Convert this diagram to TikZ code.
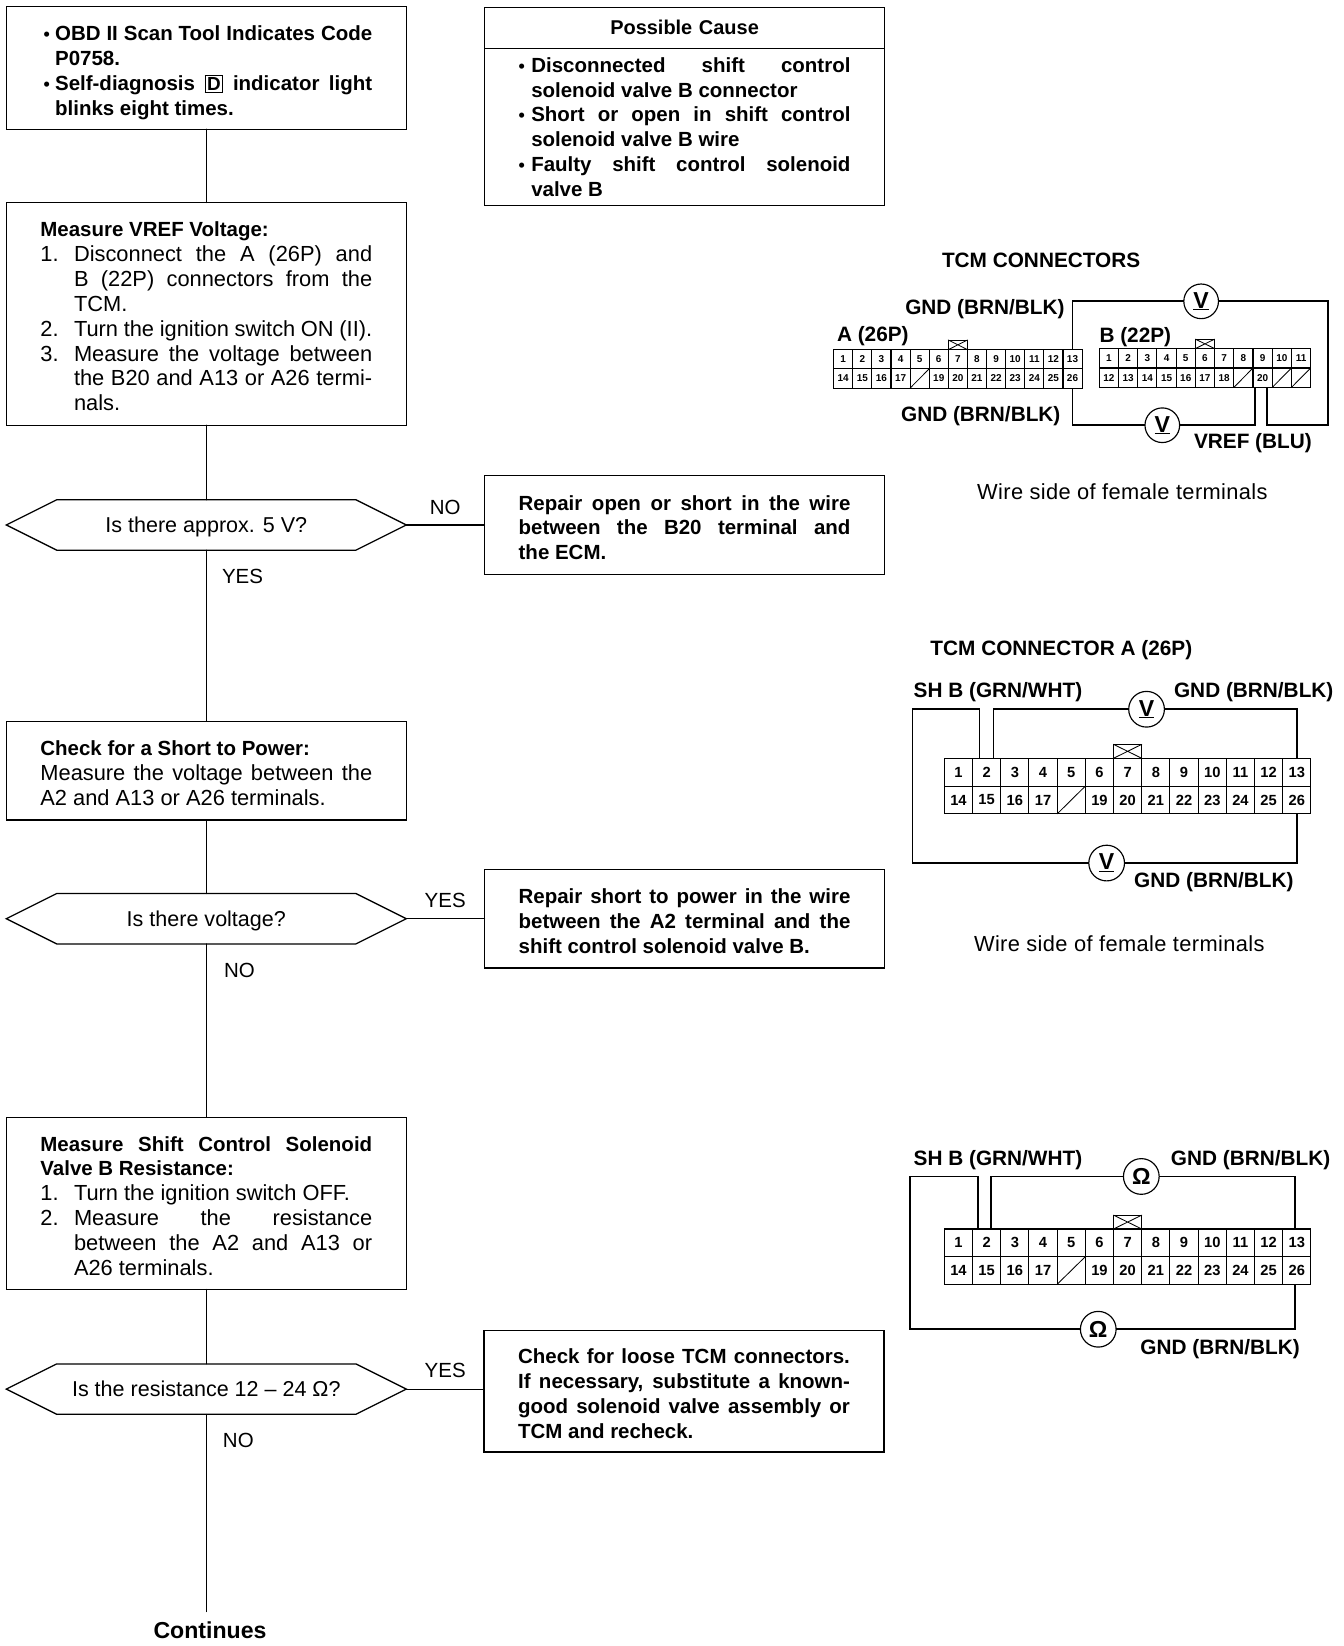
\documentclass[tikz,border=0pt]{standalone}
\usepackage{fontspec}
\setmainfont{Liberation Sans}
\usetikzlibrary{positioning, shapes.symbols}

% list items with a hanging label
\newcommand{\itmz}[3]{\hangindent=#1pt\hangafter=1\noindent\hbox to #1pt{#2\hfil}#3}
\newcommand{\itm}[3]{\par\itmz{#1}{#2}{#3}}
\newcommand{\dbox}[1]{{\fboxsep=1.5pt\fboxrule=1pt\fbox{\fontsize{18}{18}\selectfont #1}}}
\newcommand{\dotm}{{\fontsize{17}{17}\selectfont •}}
\newcommand{\hd}[1]{{\fontsize{19.5}{23.65}\selectfont\bfseries #1}}

\begin{document}
\begin{tikzpicture}[x=1pt, y=-1pt, line cap=round]

\tikzstyle{stepbox}= [draw, line width=1.2pt, minimum width=381pt, inner xsep=0pt, inner ysep=0pt, outer sep=0pt, text width=316pt, align=justify, font=\fontsize{20.8}{23.65}\selectfont]
\tikzstyle{boldbox}= [stepbox, font=\fontsize{19.5}{23.65}\selectfont\bfseries]
\tikzstyle{test}= [draw, line width=1.2pt, signal, signal to=west and east, signal pointer angle=53.1, minimum width=381pt, minimum height=48pt, inner sep=0pt, outer sep=0pt, text height=14pt, text depth=0pt, font=\fontsize{20.5}{23.65}\selectfont]
\tikzstyle{flow}= [line width=1pt]
\tikzstyle{ans}= [inner sep=0pt, font=\fontsize{19.5}{23.65}\selectfont]
\tikzstyle{lbl}= [inner sep=0pt, anchor=west, text height=14pt, text depth=0pt, font=\fontsize{19.8}{20}\selectfont\bfseries]
\tikzstyle{note}= [inner sep=0pt, font=\fontsize{20.8}{22}\selectfont\addfontfeature{LetterSpace=1.7}]
\tikzstyle{wire}= [line width=1.6pt, line cap=butt]
\tikzstyle{meter}= [circle, draw, line width=1.1pt, fill=white, minimum size=33pt, inner sep=0pt, outer sep=0pt, font=\fontsize{22}{22}\selectfont\bfseries]
\tikzstyle{down}= [execute at begin node={\rule{0pt}{19pt}}]

\useasboundingbox (0,0) rectangle (1280,1567.7);

    % left column
    \node[boldbox, minimum height=117pt] (start) at (196.5,64.5) {
        \itm{14}{\hspace{3pt}\dotm}{OBD II Scan Tool Indicates Code\linebreak P0758.}
        \itm{14}{\hspace{3pt}\dotm}{Self-diagnosis \dbox{D} indicator light\linebreak blinks eight times.}\par};
    \node[stepbox, down, minimum height=212pt] (vref) at (196.5,299) {
        \noindent\hd{Measure VREF Voltage:}
        \itm{32}{1.}{Disconnect the A (26P) and\linebreak B (22P) connectors from the\linebreak TCM.}
        \itm{32}{2.}{Turn the ignition switch ON (II).}
        \itm{32}{3.}{Measure the voltage between\linebreak the B20 and A13 or A26 termi-\linebreak nals.}\par};
    \node[test] (t1) at (196.5,500) {Is there approx. 5 V?};
    \node[stepbox, down, minimum height=94pt] (short) at (196.5,734) {
        \noindent\hd{Check for a Short to Power:}\par\noindent
        Measure the voltage between the\linebreak A2 and A13 or A26 terminals.\par};
    \node[test] (t2) at (196.5,875) {Is there voltage?};
    \node[stepbox, down, minimum height=164pt] (res) at (196.5,1146) {
        \noindent\hd{Measure Shift Control Solenoid\linebreak Valve B Resistance:}
        \itm{32}{1.}{Turn the ignition switch OFF.}
        \itm{32}{2.}{Measure the resistance\linebreak between the A2 and A13 or\linebreak A26 terminals.}\par};
    \node[test] (t3) at (196.5,1323) {Is the resistance 12 -- 24 Ω?};
    \node[inner sep=0pt, font=\fontsize{22}{22}\selectfont\bfseries] (cont) at (200,1553) {Continues};
    \coordinate (cend) at (196.5,1535);

    % right column
    \node[stepbox, minimum height=39pt, font=\fontsize{19}{20}\selectfont\bfseries, align=center] (causehead) at (652,26.5) {Possible Cause};
    \node[boldbox, minimum height=150pt, below=0pt of causehead] (cause) {
        \itmz{12}{\dotm}{Disconnected shift control\linebreak solenoid valve B connector}
        \itm{12}{\dotm}{Short or open in shift control\linebreak solenoid valve B wire}
        \itm{12}{\dotm}{Faulty shift control solenoid\linebreak valve B}\par};
    \node[boldbox, down, minimum height=94pt] (fix1) at (652,500) {
        \noindent Repair open or short in the wire\linebreak between the B20 terminal and\linebreak the ECM.\par};
    \node[boldbox, down, minimum height=94pt] (fix2) at (652,875) {
        \noindent Repair short to power in the wire\linebreak between the A2 terminal and the\linebreak shift control solenoid valve B.\par};
    \node[boldbox, down, minimum height=116pt] (fix3) at (651.5,1325) {
        \noindent Check for loose TCM connectors.\linebreak If necessary, substitute a known-\linebreak good solenoid valve assembly or\linebreak TCM and recheck.\par};

    % flow lines
    \foreach \a / \b in {start/vref,vref/t1,t1/short,short/t2,t2/res,res/t3,t3/cend}
        \draw[flow] (\a) -- (\b);
    \foreach \a / \b in {t1/fix1,t2/fix2,t3/fix3}
        \draw[flow] (\a.east) -- (\a.east -| \b.west);

    % yes and no
    \node[ans] (no1) at (424,483) {NO};
    \node[ans] (yes1) at (231,549) {YES};
    \node[ans] (yes2) at (424,858) {YES};
    \node[ans] (no2) at (228,924) {NO};
    \node[ans] (yes3) at (424,1305) {YES};
    \node[ans] (no3) at (227,1372) {NO};

    % connector cells, top row and bottom row
    \foreach \n / \xa / \ya / \w / \h / \fs in {A/794/333/18.2/18.3/9.5,
                                                C/899.4/722.2/26.86/26.5/14,
                                                D/899.4/1170.5/26.86/26.35/14}
    {
        \foreach \c in {1,...,13}
        {
            \pgfmathtruncatemacro{\d}{\c+13}
            \node[draw, line width=1pt, minimum width=\w pt, minimum height=\h pt, inner sep=0pt, outer sep=0pt, font=\fontsize{\fs}{\fs}\selectfont\bfseries]
                (\n-\c) at (\xa+\c*\w-\w/2, \ya+\h/2) {\c};
            \node[draw, line width=1pt, minimum width=\w pt, minimum height=\h pt, inner sep=0pt, outer sep=0pt, font=\fontsize{\fs}{\fs}\selectfont\bfseries]
                (\n-\d) at (\xa+\c*\w-\w/2, \ya+3*\h/2) {\ifnum\c=5 \else\d\fi};
        }
        \draw[line width=0.8pt] (\n-18.south west) -- (\n-18.north east);
        % latch above cell 7
        \node[draw, line width=1pt, minimum width=\w pt, minimum height=\h/2 pt, above=0pt of \n-7, inner sep=0pt, outer sep=0pt] (\n-latch) {};
        \draw[line width=0.8pt] (\n-latch.south west) -- (\n-latch.north east)
                                (\n-latch.north west) -- (\n-latch.south east);
    }

    % connector B has a row of 11 cells
    \foreach \c in {1,...,11}
    {
        \pgfmathtruncatemacro{\d}{\c+11}
        \node[draw, line width=1pt, minimum width=18.3pt, minimum height=18.5pt, inner sep=0pt, outer sep=0pt, font=\fontsize{9.5}{9.5}\selectfont\bfseries]
            (B-\c) at (1047+\c*18.3-9.15, 341.25) {\c};
        \node[draw, line width=1pt, minimum width=18.3pt, minimum height=18.5pt, inner sep=0pt, outer sep=0pt, font=\fontsize{9.5}{9.5}\selectfont\bfseries]
            (B-\d) at (1047+\c*18.3-9.15, 359.75) {\ifnum\c=8 \else\ifnum\c>9 \else\d\fi\fi};
    }
    \foreach \d in {19,21,22}
        \draw[line width=0.8pt] (B-\d.south west) -- (B-\d.north east);
    \node[draw, line width=1pt, minimum width=18.3pt, minimum height=9pt, above=0pt of B-6, inner sep=0pt, outer sep=0pt] (B-latch) {};
    \draw[line width=0.8pt] (B-latch.south west) -- (B-latch.north east)
                            (B-latch.north west) -- (B-latch.south east);

    % top diagram
    \node[lbl] (conn) at (897,248) {TCM CONNECTORS};
    \node[lbl] (gnd1) at (862,293) {GND (BRN/BLK)};
    \node[lbl] (gnd2) at (858,394) {GND (BRN/BLK)};
    \node[lbl] (alab) at (797,318) {A (26P)};
    \node[lbl] (blab) at (1047,319) {B (22P)};
    \node[lbl] (vreflab) at (1137,420) {VREF (BLU)};
    \node[note] (side1) at (1069,468) {Wire side of female terminals};
    \node[meter] (m1) at (1144,287) {\underline{V}};
    \node[meter] (m2) at (1107,405) {\underline{V}};
    \coordinate (c1) at (1265,287);
    \coordinate (c2) at (1265,405);
    \draw[wire] (A-13.north) |- (m1);
    \draw[wire] (m1) -- (c1) -- (c2) -| ([xshift=4pt]B-20.south);
    \draw[wire] (A-26.south) |- (m2);
    \draw[wire] (m2) -| ([xshift=-7pt]B-20.south);

    % middle diagram
    \node[lbl] (conn2) at (886,617) {TCM CONNECTOR A (26P)};
    \node[lbl] (sh1) at (870,657) {SH B (GRN/WHT)};
    \node[lbl] (gnd3) at (1118,657) {GND (BRN/BLK)};
    \node[lbl] (gnd4) at (1080,838) {GND (BRN/BLK)};
    \node[note] (side2) at (1066,899) {Wire side of female terminals};
    \node[meter, minimum size=34pt] (m3) at (1092,675.5) {\underline{V}};
    \node[meter, minimum size=34pt] (m4) at (1054,822) {\underline{V}};
    \coordinate (c3) at (869,675.5);
    \draw[wire] ([xshift=6.5pt]C-1.north east) |- (c3) |- (m4);
    \draw[wire] (m4) -| (C-26.south);
    \draw[wire] ([xshift=-7pt]C-2.north east) |- (m3);
    \draw[wire] (m3) -| (C-13.north);

    % bottom diagram
    \node[lbl] (sh2) at (870,1103) {SH B (GRN/WHT)};
    \node[lbl] (gnd5) at (1115,1103) {GND (BRN/BLK)};
    \node[lbl] (gnd6) at (1086,1283) {GND (BRN/BLK)};
    \node[meter, minimum size=34pt] (m5) at (1087,1120.5) {Ω};
    \node[meter, minimum size=34pt] (m6) at (1046,1266) {Ω};
    \coordinate (c5) at (867,1120.5);
    \draw[wire] ([xshift=5pt]D-1.north east) |- (c5) |- (m6);
    \draw[wire] (m6) -| ([xshift=-2pt]D-26.south);
    \draw[wire] ([xshift=-9pt]D-2.north east) |- (m5);
    \draw[wire] (m5) -| ([xshift=-2pt]D-13.north);

\end{tikzpicture}
\end{document}
